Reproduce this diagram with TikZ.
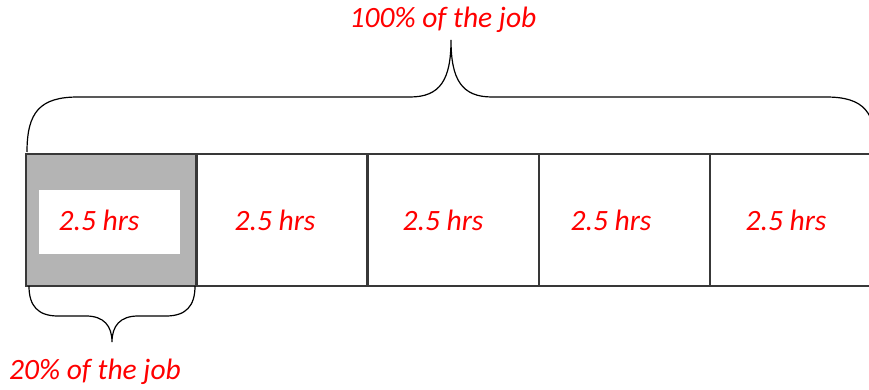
\documentclass[tikz,border=0pt]{standalone}
\usepackage{fontspec}
\setmainfont{Carlito}
\definecolor{cellgray}{HTML}{B4B4B4}
\definecolor{lbl}{HTML}{FF0000}
\begin{document}
\begin{tikzpicture}[x=1pt,y=-1pt,
  cell/.style={draw=black!78,line width=2.4pt,minimum width=171pt,minimum height=132pt,inner sep=0pt,anchor=north west},
  lab/.style={text=lbl,font=\fontsize{29.5}{33}\selectfont\itshape,inner sep=0pt},
  brace/.style={draw=black,line width=1.2pt}]
\useasboundingbox (0,0) rectangle (869,390);
\node[cell,fill=cellgray] (c1) at (25,153) {};
\node[cell] (c2) at (195,153) {};
\node[cell] (c3) at (367,153) {};
\node[cell] (c4) at (538,153) {};
\node[cell,minimum width=180pt] (c5) at (709,153) {};
\node[fill=white,minimum width=141pt,minimum height=64pt,inner sep=0pt] (w1) at (109.5,222) {};
\node[lab] (t1) at (99,220) {2.5 hrs};
\node[lab] (t2) at (275,220) {2.5 hrs};
\node[lab] (t3) at (443,220) {2.5 hrs};
\node[lab] (t4) at (611,220) {2.5 hrs};
\node[lab] (t5) at (786,220) {2.5 hrs};
\node[lab] (top) at (443,20) {100\% of the job};
\node[lab] (bot) at (95,372) {20\% of the job};
\coordinate (tl) at (27,152);
\coordinate (tr) at (876,152);
\coordinate (ttip) at (451,40);
\coordinate (bl) at (29,286);
\coordinate (br) at (195,286);
\coordinate (btip) at (112,342);
\draw[brace] (tl) .. controls (27,112) and (40,97) .. (78,97) -- (410,97)
  .. controls (440,97) and (451,80) .. (ttip)
  .. controls (451,80) and (462,97) .. (492,97) -- (826,97)
  .. controls (864,97) and (876,112) .. (tr);
\draw[brace] (bl) .. controls (29,306) and (38,316) .. (58,316) -- (86,316)
  .. controls (104,316) and (112,326) .. (btip)
  .. controls (112,326) and (120,316) .. (138,316) -- (166,316)
  .. controls (186,316) and (195,306) .. (br);
\end{tikzpicture}
\end{document}
